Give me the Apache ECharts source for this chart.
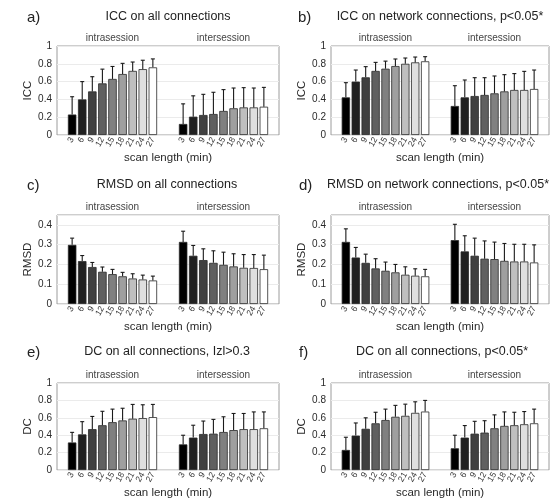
<!DOCTYPE html>
<html>
<head>
<meta charset="utf-8">
<script src="https://cdn.jsdelivr.net/npm/echarts@6/dist/echarts.min.js"></script>
<style>
  html, body { margin: 0; background: #fff; }
  #main { width: 560px; height: 500px; }
</style>
</head>
<body>
<div id="main"></div>
<script>
// scan lengths (min), same for both session groups
const scanLength = ['3', '6', '9', '12', '15', '18', '21', '24', '27'];
const groupNames = ['intrasession', 'intersession'];

// a) ICC on all connections  (mean, top of error bar)
const iccAllIntra   = [0.23, 0.40, 0.49, 0.58, 0.63, 0.685, 0.72, 0.74, 0.76];
const iccAllIntraUp = [0.43, 0.60, 0.655, 0.74, 0.77, 0.805, 0.82, 0.84, 0.855];
const iccAllInter   = [0.124, 0.206, 0.225, 0.236, 0.27, 0.30, 0.31, 0.31, 0.318];
const iccAllInterUp = [0.35, 0.44, 0.457, 0.48, 0.51, 0.528, 0.532, 0.528, 0.535];

// b) ICC on network connections
const iccNetIntra   = [0.423, 0.60, 0.648, 0.72, 0.745, 0.775, 0.80, 0.816, 0.828];
const iccNetIntraUp = [0.588, 0.73, 0.768, 0.816, 0.83, 0.854, 0.865, 0.876, 0.88];
const iccNetInter   = [0.326, 0.423, 0.438, 0.45, 0.468, 0.49, 0.506, 0.506, 0.517];
const iccNetInterUp = [0.554, 0.618, 0.644, 0.644, 0.663, 0.678, 0.69, 0.715, 0.73];

// c) RMSD on all connections
const rmsdAllIntra   = [0.299, 0.217, 0.187, 0.163, 0.151, 0.14, 0.129, 0.124, 0.119];
const rmsdAllIntraUp = [0.333, 0.245, 0.21, 0.187, 0.175, 0.16, 0.153, 0.146, 0.141];
const rmsdAllInter   = [0.314, 0.244, 0.222, 0.208, 0.198, 0.19, 0.183, 0.182, 0.176];
const rmsdAllInterUp = [0.368, 0.296, 0.279, 0.269, 0.262, 0.254, 0.25, 0.25, 0.247];

// d) RMSD on network connections
const rmsdNetIntra   = [0.314, 0.235, 0.208, 0.18, 0.168, 0.16, 0.148, 0.143, 0.14];
const rmsdNetIntraUp = [0.38, 0.286, 0.252, 0.229, 0.212, 0.2, 0.188, 0.178, 0.175];
const rmsdNetInter   = [0.323, 0.266, 0.244, 0.229, 0.227, 0.218, 0.215, 0.215, 0.21];
const rmsdNetInterUp = [0.403, 0.345, 0.333, 0.319, 0.313, 0.306, 0.302, 0.302, 0.299];

// e) DC on all connections, |z|>0.3
const dcZIntra   = [0.317, 0.41, 0.47, 0.515, 0.55, 0.57, 0.59, 0.597, 0.608];
const dcZIntraUp = [0.433, 0.556, 0.616, 0.675, 0.70, 0.71, 0.754, 0.75, 0.754];
const dcZInter   = [0.295, 0.373, 0.414, 0.418, 0.437, 0.459, 0.47, 0.47, 0.48];
const dcZInterUp = [0.40, 0.515, 0.563, 0.582, 0.612, 0.65, 0.65, 0.668, 0.668];

// f) DC on all connections, p<0.05
const dcPIntra   = [0.231, 0.396, 0.474, 0.537, 0.575, 0.612, 0.623, 0.657, 0.672];
const dcPIntraUp = [0.377, 0.541, 0.60, 0.664, 0.70, 0.743, 0.757, 0.784, 0.80];
const dcPInter   = [0.25, 0.373, 0.418, 0.43, 0.48, 0.507, 0.515, 0.526, 0.537];
const dcPInterUp = [0.40, 0.511, 0.56, 0.567, 0.634, 0.668, 0.664, 0.672, 0.70];

const panels = [
  { tag: 'a)', title: 'ICC on all connections', yName: 'ICC', yMax: 1, yStep: 0.2,
    intra: iccAllIntra, intraUp: iccAllIntraUp, inter: iccAllInter, interUp: iccAllInterUp,
    box: { left: 57, top: 46, width: 222, height: 89 }, titleX: 168, tagX: 27, titleY: 17, nameGap: 15 },
  { tag: 'b)', title: 'ICC on network connections, p<0.05*', yName: 'ICC', yMax: 1, yStep: 0.2,
    intra: iccNetIntra, intraUp: iccNetIntraUp, inter: iccNetInter, interUp: iccNetInterUp,
    box: { left: 331, top: 46, width: 218, height: 89 }, titleX: 440, tagX: 298, titleY: 17, nameGap: 15 },
  { tag: 'c)', title: 'RMSD on all connections', yName: 'RMSD', yMax: 0.45, yStep: 0.1,
    intra: rmsdAllIntra, intraUp: rmsdAllIntraUp, inter: rmsdAllInter, interUp: rmsdAllInterUp,
    box: { left: 57, top: 215, width: 222, height: 89 }, titleX: 167, tagX: 27, titleY: 185, nameGap: 12 },
  { tag: 'd)', title: 'RMSD on network connections, p<0.05*', yName: 'RMSD', yMax: 0.45, yStep: 0.1,
    intra: rmsdNetIntra, intraUp: rmsdNetIntraUp, inter: rmsdNetInter, interUp: rmsdNetInterUp,
    box: { left: 331, top: 215, width: 218, height: 89 }, titleX: 438, tagX: 299, titleY: 185, nameGap: 12 },
  { tag: 'e)', title: 'DC on all connections, Izl>0.3', yName: 'DC', yMax: 1, yStep: 0.2,
    intra: dcZIntra, intraUp: dcZIntraUp, inter: dcZInter, interUp: dcZInterUp,
    box: { left: 57, top: 383, width: 222, height: 90 }, titleX: 167, tagX: 27, titleY: 352, nameGap: 9 },
  { tag: 'f)', title: 'DC on all connections, p<0.05*', yName: 'DC', yMax: 1, yStep: 0.2,
    intra: dcPIntra, intraUp: dcPIntraUp, inter: dcPInter, interUp: dcPInterUp,
    box: { left: 331, top: 383, width: 218, height: 90 }, titleX: 442, tagX: 299, titleY: 352, nameGap: 9 }
];

// category slots: pad, 9 intra bars, 2 gap slots, 9 inter bars, pad
const slots = [''].concat(scanLength, ['', ''], scanLength, ['']);
const intraStart = 1;
const interStart = scanLength.length + 3;
const topSlots = slots.map(() => '');
topSlots[intraStart + 4] = groupNames[0];
topSlots[interStart + 4] = groupNames[1];

// gray ramp black -> white
const shades = scanLength.map((_, i) => {
  const v = Math.round(i * 255 / (scanLength.length - 1));
  return 'rgb(' + v + ',' + v + ',' + v + ')';
});

function renderErr(params, api) {
  const x = api.value(0);
  const p0 = api.coord([x, api.value(1)]);
  const p1 = api.coord([x, api.value(2)]);
  const cap = 2;
  const style = { stroke: '#1a1a1a', lineWidth: 1.1 };
  return {
    type: 'group',
    children: [
      { type: 'line', shape: { x1: p0[0], y1: p0[1], x2: p1[0], y2: p1[1] }, style: style },
      { type: 'line', shape: { x1: p1[0] - cap, y1: p1[1], x2: p1[0] + cap, y2: p1[1] }, style: style }
    ]
  };
}

const grid = [], xAxis = [], yAxis = [], series = [], graphic = [];
const font = '"Liberation Sans", Arial, sans-serif';

panels.forEach((p, k) => {
  grid.push(Object.assign({ show: true, borderColor: '#9c9c9c', borderWidth: 1, backgroundColor: 'transparent' }, p.box));

  xAxis.push({
    type: 'category', gridIndex: k, data: slots, position: 'bottom',
    axisLine: { show: false }, axisTick: { show: false },
    axisLabel: { interval: 0, rotate: 60, fontSize: 8.5, color: '#333', margin: 3 },
    name: 'scan length (min)', nameLocation: 'middle', nameGap: p.nameGap,
    nameTextStyle: { fontSize: 11.5, color: '#2a2a2a' }
  });
  xAxis.push({
    type: 'category', gridIndex: k, data: topSlots, position: 'top',
    axisLine: { show: false }, axisTick: { show: false },
    axisLabel: { interval: 0, fontSize: 10, color: '#444', margin: 3 }
  });
  yAxis.push({
    type: 'value', gridIndex: k, min: 0, max: p.yMax, interval: p.yStep,
    axisLine: { show: false }, axisTick: { show: false },
    splitLine: { lineStyle: { color: '#ebebeb', width: 1 } },
    axisLabel: { fontSize: 10, color: '#2a2a2a', margin: 5, showMaxLabel: p.yMax === 1 },
    name: p.yName, nameLocation: 'middle', nameGap: 23, nameRotate: 90,
    nameTextStyle: { fontSize: 11.5, color: '#2a2a2a' }
  });

  const barData = slots.map(() => '-');
  const errData = [];
  [[p.intra, p.intraUp, intraStart], [p.inter, p.interUp, interStart]].forEach(([mean, up, start]) => {
    mean.forEach((v, i) => {
      barData[start + i] = { value: v, itemStyle: { color: shades[i] } };
      errData.push([start + i, v, up[i]]);
    });
  });

  series.push({
    type: 'bar', xAxisIndex: 2 * k, yAxisIndex: k, data: barData,
    barWidth: '84%', silent: true,
    itemStyle: { borderColor: '#2a2a2a', borderWidth: 0.8 }
  });
  series.push({
    type: 'custom', xAxisIndex: 2 * k, yAxisIndex: k, data: errData,
    renderItem: renderErr, silent: true, z: 3
  });

  graphic.push({
    type: 'text', x: p.tagX, y: p.titleY + 1,
    style: { text: p.tag, font: '15px ' + font, fill: '#222', verticalAlign: 'middle' }
  });
  graphic.push({
    type: 'text', x: p.titleX, y: p.titleY,
    style: { text: p.title, font: '12.5px ' + font, fill: '#222', align: 'center', verticalAlign: 'middle' }
  });
});

const chart = echarts.init(document.getElementById('main'), null, { renderer: 'canvas' });
chart.setOption({
  animation: false,
  backgroundColor: '#fff',
  textStyle: { fontFamily: font },
  grid: grid,
  xAxis: xAxis,
  yAxis: yAxis,
  series: series,
  graphic: graphic
});
</script>
</body>
</html>
